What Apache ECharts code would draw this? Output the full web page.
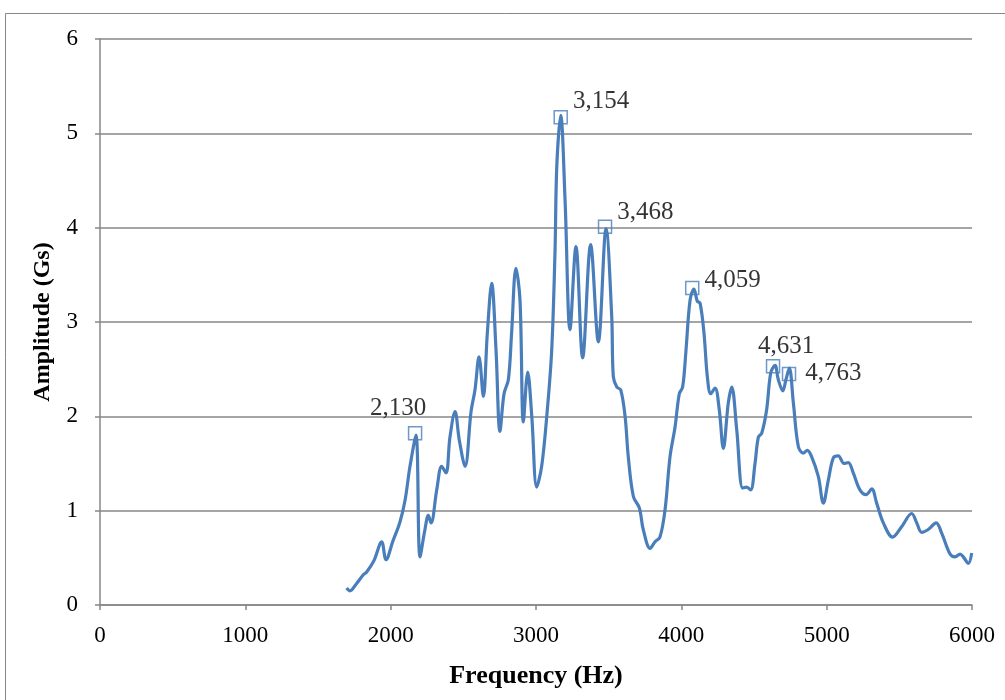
<!DOCTYPE html>
<html>
<head>
<meta charset="utf-8">
<script src="https://cdn.jsdelivr.net/npm/echarts@6/dist/echarts.min.js"></script>
<style>
html,body{margin:0;padding:0;background:#fff;}
#c{width:1005px;height:700px;}
</style>
</head>
<body>
<div id="c"></div>
<script>
// Frequency (Hz) and amplitude (Gs)
var freq = [1697,1720,1762,1812,1835,1885,1938,1968,2016,2064,2099,2133,2174,2202,2236,2259,2278,2317,2351,2381,2408,2443,2472,2512,2553,2580,2608,2638,2665,2695,2725,2752,2780,2810,2832,2862,2890,2913,2943,2971,3005,3039,3074,3108,3131,3143,3170,3200,3234,3275,3321,3376,3429,3482,3521,3532,3556,3583,3613,3635,3670,3711,3738,3785,3819,3853,3888,3922,3957,3986,4009,4032,4060,4087,4110,4129,4156,4179,4202,4232,4261,4289,4323,4347,4381,4422,4450,4477,4507,4530,4553,4587,4615,4645,4667,4698,4720,4743,4771,4805,4839,4867,4897,4943,4977,5012,5046,5080,5119,5149,5183,5229,5271,5310,5344,5390,5454,5516,5585,5620,5654,5699,5753,5792,5849,5883,5918,5940,5975,5998];
var amp = [0.18,0.15,0.22,0.32,0.35,0.47,0.67,0.48,0.68,0.88,1.11,1.47,1.80,0.51,0.80,0.95,0.87,1.22,1.47,1.40,1.78,2.05,1.75,1.47,2.05,2.28,2.63,2.21,2.88,3.41,2.70,1.84,2.24,2.39,2.88,3.57,3.23,1.94,2.47,2.00,1.25,1.47,2.00,2.70,3.76,4.65,5.19,4.29,2.92,3.80,2.62,3.82,2.79,3.99,3.06,2.42,2.31,2.28,2.00,1.57,1.15,1.03,0.80,0.60,0.67,0.72,1.01,1.57,1.89,2.24,2.31,2.70,3.23,3.35,3.22,3.20,2.88,2.42,2.24,2.30,2.07,1.66,2.14,2.31,1.86,1.24,1.25,1.22,1.50,1.78,1.82,2.07,2.46,2.54,2.39,2.27,2.39,2.51,2.14,1.68,1.61,1.64,1.57,1.36,1.08,1.33,1.56,1.58,1.50,1.51,1.40,1.22,1.17,1.23,1.08,0.87,0.72,0.83,0.97,0.87,0.77,0.80,0.87,0.76,0.54,0.51,0.54,0.51,0.44,0.55];

// Marked peaks
var peakFreq = [2168,3170,3475,4075,4631,4741];
var peakAmp = [1.82,5.17,4.01,3.36,2.53,2.45];
var peakLabels = ['2,130','3,154','3,468','4,059','4,631','4,763'];

var xTicks = [0,1000,2000,3000,4000,5000,6000];
var yTicks = [0,1,2,3,4,5,6];

var labelPlace = [
  {position:'top', offset:[-17,0]},
  {position:'right', offset:[0,-16]},
  {position:'right', offset:[0,-14]},
  {position:'right', offset:[0,-8]},
  {position:'top', offset:[13,5]},
  {position:'right', offset:[4,0]}
];

var lineData = freq.map(function(f,i){return [f, amp[i]];});
var peakData = peakFreq.map(function(f,i){
  return {value:[f, peakAmp[i]], label:{show:true, formatter:peakLabels[i], position:labelPlace[i].position, offset:labelPlace[i].offset}};
});

var font = '"Liberation Serif", "Times New Roman", serif';
var chart = echarts.init(document.getElementById('c'), null, {renderer:'canvas'});
chart.setOption({
  backgroundColor:'#fff',
  animation:false,
  graphic:[{type:'rect', shape:{x:5.5,y:13.5,width:1010,height:720}, style:{fill:'none', stroke:'#878787', lineWidth:1}, z:-1}],
  grid:{left:100, right:33, top:39, bottom:95, containLabel:false},
  xAxis:{
    type:'value', min:xTicks[0], max:xTicks[xTicks.length-1], interval:1000,
    name:'Frequency (Hz)', nameLocation:'middle', nameGap:58,
    nameTextStyle:{fontFamily:font, fontWeight:'bold', fontSize:26, color:'#000'},
    axisLine:{show:true, lineStyle:{color:'#878787', width:1.5}},
    axisTick:{show:true, length:5, lineStyle:{color:'#878787', width:1.5}},
    axisLabel:{fontFamily:font, fontSize:23, color:'#000', margin:19, formatter:function(v){return String(v);}},
    splitLine:{show:false}
  },
  yAxis:{
    type:'value', min:yTicks[0], max:yTicks[yTicks.length-1], interval:1,
    name:'Amplitude (Gs)', nameLocation:'middle', nameGap:45,
    nameTextStyle:{fontFamily:font, fontWeight:'bold', fontSize:24, color:'#000'},
    axisLine:{show:true, lineStyle:{color:'#878787', width:1.5}},
    axisTick:{show:true, length:5, lineStyle:{color:'#878787', width:1.5}},
    axisLabel:{fontFamily:font, fontSize:23, color:'#000', margin:22},
    splitLine:{show:true, lineStyle:{color:'#878787', width:1.5}}
  },
  series:[
    {type:'line', data:lineData, smooth:0.35, showSymbol:false, symbol:'none',
     lineStyle:{color:'#4a7ebb', width:3.2}, z:2},
    {type:'scatter', data:peakData, symbol:'rect', symbolSize:13,
     itemStyle:{color:'rgba(255,255,255,0)', borderColor:'#4a7ebb', borderWidth:1.5},
     label:{show:true, fontFamily:font, fontSize:25, color:'#000', distance:5},
     z:3}
  ]
});
</script>
</body>
</html>
